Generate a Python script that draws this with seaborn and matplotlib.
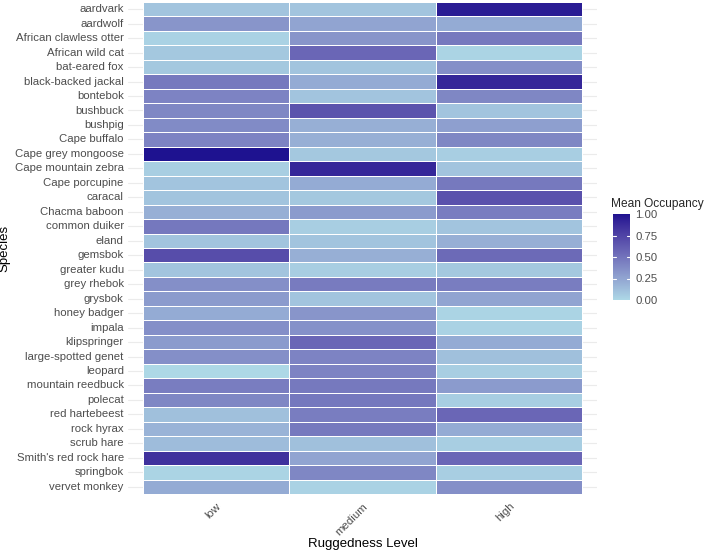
import numpy as np
import pandas as pd
import matplotlib
matplotlib.use("Agg")
import matplotlib.pyplot as plt
from matplotlib.colors import ListedColormap
import seaborn as sns

species = ["aardvark", "aardwolf", "African clawless otter", "African wild cat",
           "bat-eared fox", "black-backed jackal", "bontebok", "bushbuck", "bushpig",
           "Cape buffalo", "Cape grey mongoose", "Cape mountain zebra", "Cape porcupine",
           "caracal", "Chacma baboon", "common duiker", "eland", "gemsbok", "greater kudu",
           "grey rhebok", "grysbok", "honey badger", "impala", "klipspringer",
           "large-spotted genet", "leopard", "mountain reedbuck", "polecat",
           "red hartebeest", "rock hyrax", "scrub hare", "Smith's red rock hare",
           "springbok", "vervet monkey"]
levels = ["low", "medium", "high"]

occ_low = [0.10, 0.33, 0.03, 0.08, 0.08, 0.47, 0.42, 0.40, 0.38, 0.42, 1.00, 0.05,
           0.10, 0.10, 0.20, 0.48, 0.10, 0.70, 0.10, 0.36, 0.30, 0.22, 0.36, 0.30,
           0.36, 0.00, 0.45, 0.40, 0.12, 0.18, 0.14, 0.85, 0.02, 0.22]
occ_medium = [0.10, 0.25, 0.33, 0.57, 0.10, 0.22, 0.10, 0.67, 0.20, 0.20, 0.08, 0.90,
              0.22, 0.08, 0.30, 0.05, 0.10, 0.20, 0.05, 0.46, 0.10, 0.33, 0.35, 0.57,
              0.42, 0.42, 0.47, 0.48, 0.45, 0.47, 0.12, 0.25, 0.40, 0.03]
occ_high = [0.95, 0.22, 0.47, 0.02, 0.36, 0.90, 0.40, 0.10, 0.28, 0.40, 0.05, 0.10,
            0.47, 0.68, 0.45, 0.10, 0.20, 0.55, 0.08, 0.45, 0.25, 0.02, 0.03, 0.22,
            0.12, 0.05, 0.30, 0.05, 0.57, 0.22, 0.05, 0.57, 0.05, 0.36]

df = pd.DataFrame({"low": occ_low, "medium": occ_medium, "high": occ_high}, index=species)[levels]


# lightblue -> darkblue gradient interpolated in Lab (like ggplot)
M = np.array([[0.4124, 0.3576, 0.1805], [0.2126, 0.7152, 0.0722], [0.0193, 0.1192, 0.9505]])
WHITE = np.array([0.95047, 1.0, 1.08883])

def to_lab(hexc):
    c = np.array([int(hexc[i:i + 2], 16) for i in (1, 3, 5)]) / 255
    lin = np.where(c > 0.04045, ((c + 0.055) / 1.055) ** 2.4, c / 12.92)
    t = M @ lin / WHITE
    f = np.where(t > 0.008856, np.cbrt(t), 7.787 * t + 16 / 116)
    return np.array([116 * f[1] - 16, 500 * (f[0] - f[1]), 200 * (f[1] - f[2])])

def from_lab(lab):
    fy = (lab[0] + 16) / 116
    f = np.array([fy + lab[1] / 500, fy, fy - lab[2] / 200])
    t = np.where(f ** 3 > 0.008856, f ** 3, (f - 16 / 116) / 7.787)
    lin = np.linalg.solve(M, t * WHITE)
    c = np.where(lin > 0.0031308, 1.055 * np.clip(lin, 0, None) ** (1 / 2.4) - 0.055, 12.92 * lin)
    return np.clip(c, 0, 1)

lo, hi = to_lab("#ADD8E6"), to_lab("#1E1290")
cmap = ListedColormap([from_lab(lo + (hi - lo) * s) for s in np.linspace(0, 1, 256)])

sns.set_theme(style="white")
plt.rcParams["font.family"] = ["Liberation Sans", "DejaVu Sans"]

fig = plt.figure(figsize=(7.09, 5.51), dpi=100)
ax = fig.add_axes([128 / 709, (551 - 495.5) / 551, (597 - 128) / 709, 495 / 551])
sns.heatmap(df, cmap=cmap, vmin=0, vmax=1, linewidths=0.6, linecolor="white",
            cbar=False, yticklabels=True, ax=ax)
ax.set_xlim(-0.1, 3.1)
ax.set_ylim(34.1, -0.1)
ax.set_axisbelow(True)
ax.grid(axis="y", color="#EBEBEB", lw=0.8)
for s in ax.spines.values():
    s.set_visible(False)
ax.tick_params(axis="y", length=0, pad=3, labelsize=8.2, colors="#4D4D4D")
ax.tick_params(axis="x", length=0, pad=4, labelsize=8.2, colors="#4D4D4D")
plt.setp(ax.get_yticklabels(), rotation=0)
plt.setp(ax.get_xticklabels(), rotation=45, ha="right", va="top", rotation_mode="anchor")
ax.set_xlabel("Ruggedness Level", fontsize=9.5, color="black")
ax.xaxis.set_label_coords(0.5, -42 / 495)
ax.set_ylabel("Species", fontsize=9.5, color="black", labelpad=3)

# colourbar legend
cax = fig.add_axes([613 / 709, (551 - 300) / 551, 17 / 709, 86 / 551])
cb = fig.colorbar(ax.collections[0], cax=cax, ticks=[0, 0.25, 0.5, 0.75, 1])
cb.outline.set_visible(False)
cb.ax.set_yticklabels(["0.00", "0.25", "0.50", "0.75", "1.00"])
cax.tick_params(length=0, pad=4, labelsize=8.2, colors="#4D4D4D")
for t in [0.25, 0.5, 0.75]:
    cax.plot([0, 0.2], [t, t], color="white", lw=0.8, transform=cax.get_yaxis_transform())
    cax.plot([0.8, 1], [t, t], color="white", lw=0.8, transform=cax.get_yaxis_transform())
fig.text(611 / 709, 1 - 204 / 551, "Mean Occupancy", fontsize=8.6, ha="left", va="center")

fig.savefig("out.png", dpi=100)
